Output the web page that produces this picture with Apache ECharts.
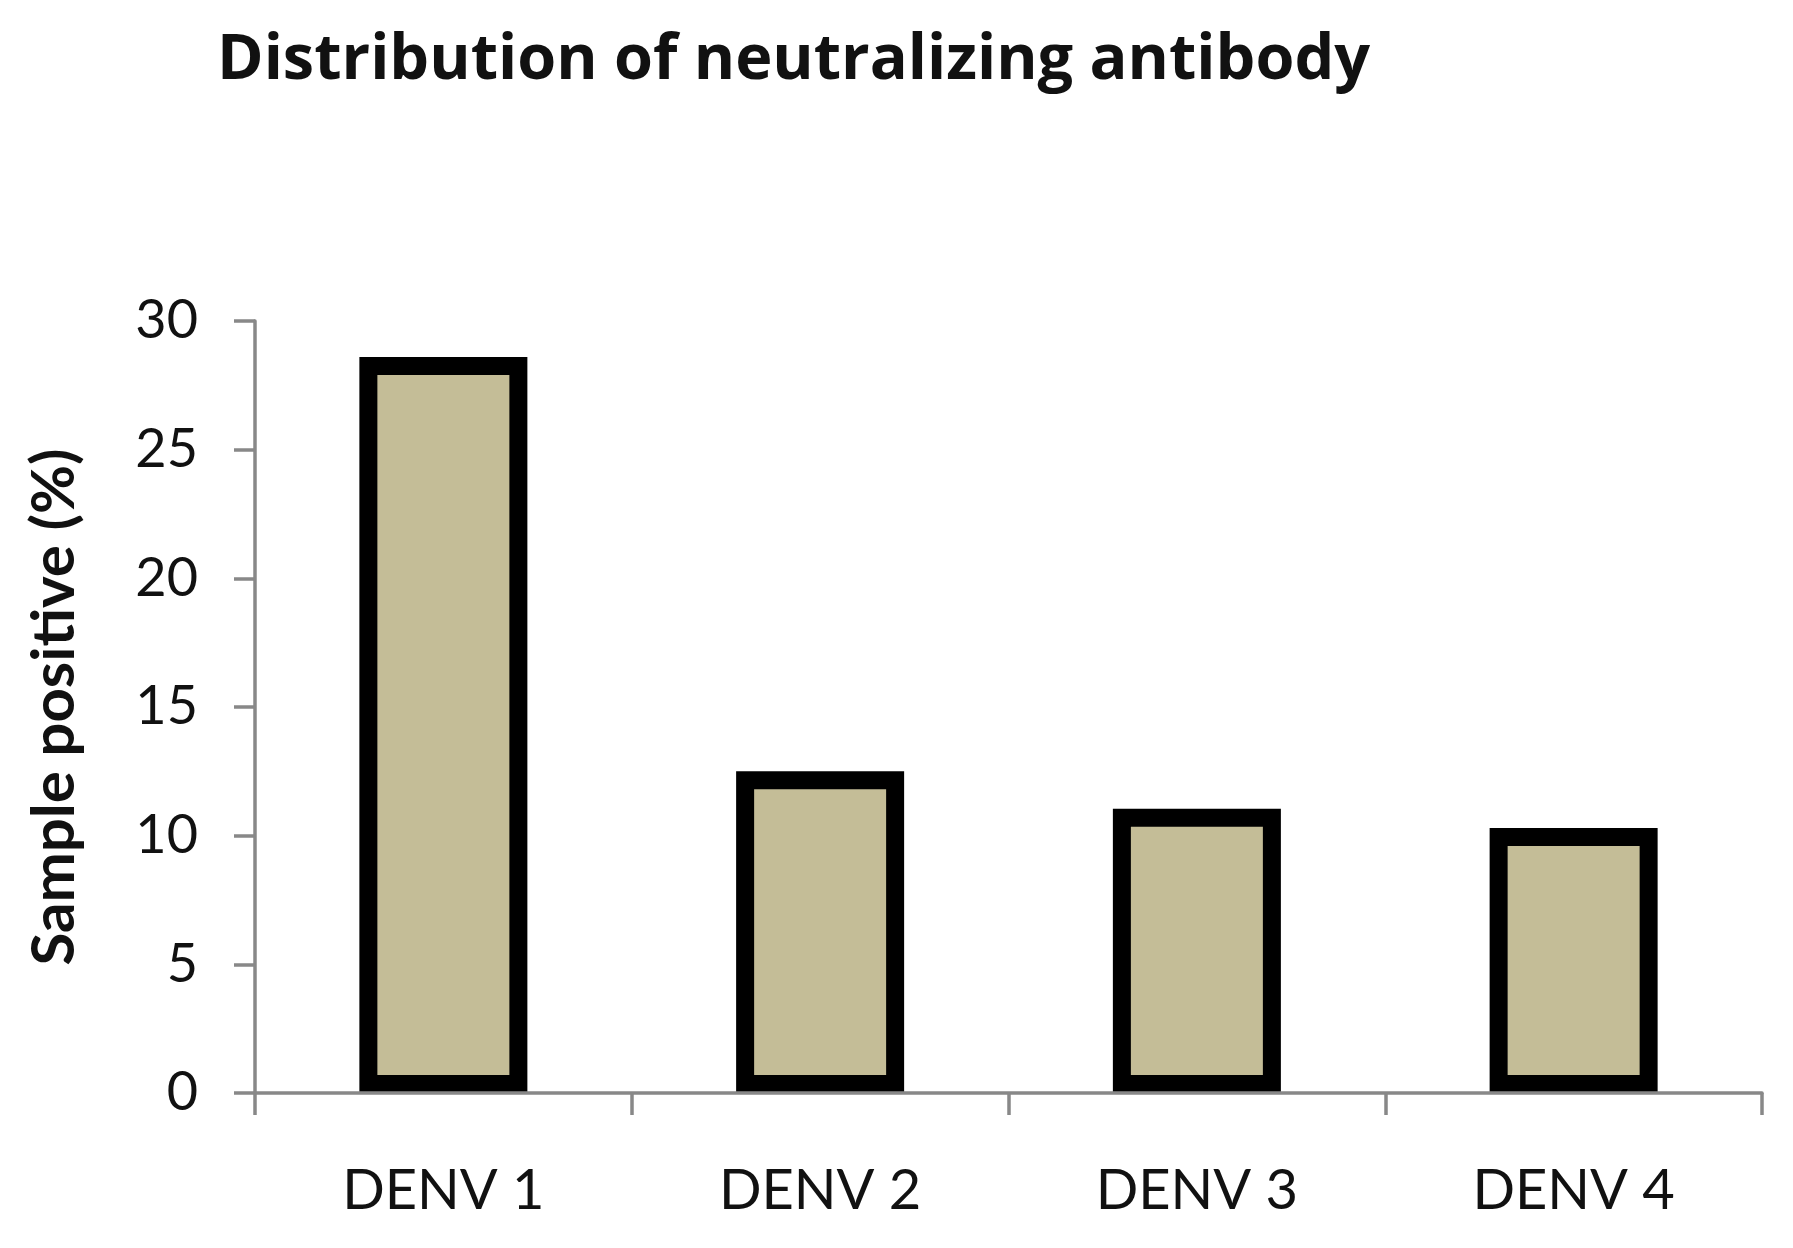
<!DOCTYPE html>
<html>
<head>
<meta charset="utf-8">
<script src="https://cdn.jsdelivr.net/npm/echarts@6/dist/echarts.min.js"></script>
<style>
html,body{margin:0;padding:0;background:#fff;}
#chart{width:1793px;height:1248px;}
</style>
</head>
<body>
<div id="chart"></div>
<script>
const titleText = 'Distribution of neutralizing antibody';
const yAxisName = 'Sample positive (%)';
const categories = ['DENV 1', 'DENV 2', 'DENV 3', 'DENV 4'];
const values = [28.6, 12.5, 11.05, 10.3];

const chart = echarts.init(document.getElementById('chart'), null, {renderer: 'canvas'});
const axisColor = '#888888';
const font = 'Lato';
chart.setOption({
  backgroundColor: '#ffffff',
  animation: false,
  title: {
    text: titleText,
    left: 212,
    top: 25,
    textStyle: {fontFamily: 'Open Sans', fontWeight: 'bold', fontSize: 63, color: '#111'}
  },
  grid: {left: 255, right: 31, top: 321, bottom: 155, containLabel: false},
  xAxis: {
    type: 'category',
    data: categories,
    boundaryGap: true,
    z: 5,
    axisLine: {show: true, lineStyle: {color: axisColor, width: 3.5}},
    axisTick: {show: true, length: 22, alignWithLabel: false, lineStyle: {color: axisColor, width: 3.5}},
    axisLabel: {margin: 70, fontFamily: font, fontSize: 56, color: '#111'}
  },
  yAxis: {
    type: 'value',
    min: 0,
    max: 30,
    interval: 5,
    name: yAxisName,
    nameLocation: 'middle',
    nameGap: 170,
    nameTextStyle: {fontFamily: font, fontWeight: 'bold', fontSize: 60, color: '#111'},
    axisLine: {show: true, lineStyle: {color: axisColor, width: 3.5}},
    axisTick: {show: true, length: 21, lineStyle: {color: axisColor, width: 3.5}},
    axisLabel: {margin: 57, fontFamily: font, fontSize: 54, color: '#111'},
    splitLine: {show: false}
  },
  series: [{
    type: 'bar',
    data: values,
    barWidth: 168,
    itemStyle: {color: '#C4BD97', borderColor: '#000000', borderWidth: 18}
  }]
});
</script>
</body>
</html>
